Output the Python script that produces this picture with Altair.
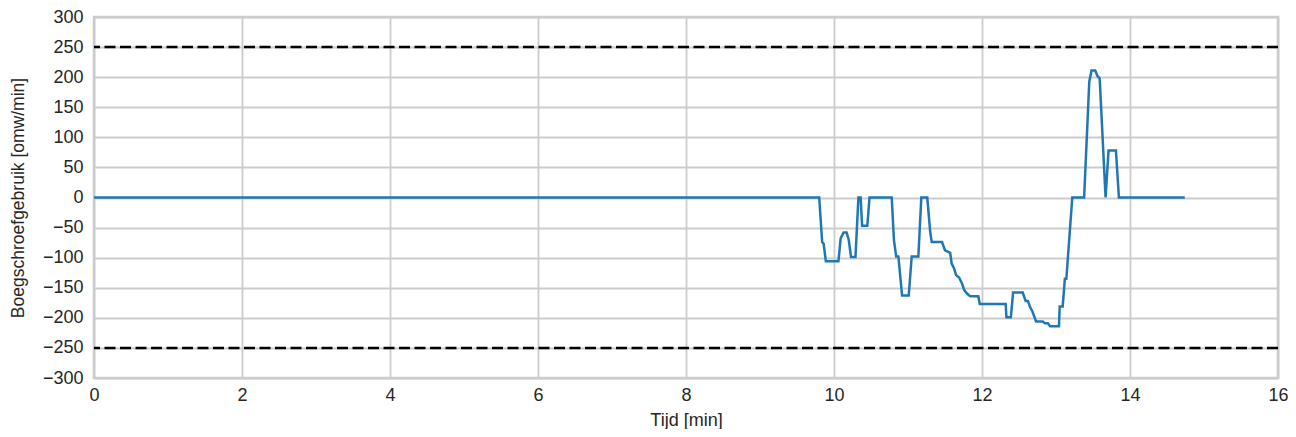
import altair as alt
import pandas as pd

tijd = [0, 9.80, 9.84, 9.86, 9.89, 10.06, 10.09, 10.13, 10.17, 10.20, 10.23, 10.29,
        10.33, 10.36, 10.38, 10.45, 10.48, 10.78, 10.81, 10.84, 10.87, 10.92, 11.01,
        11.05, 11.14, 11.18, 11.26, 11.30, 11.32, 11.46, 11.50, 11.57, 11.59, 11.62,
        11.65, 11.69, 11.73, 11.76, 11.80, 11.84, 11.95, 11.97, 12.32, 12.33, 12.39,
        12.42, 12.55, 12.59, 12.62, 12.65, 12.68, 12.71, 12.73, 12.82, 12.85, 12.89,
        12.92, 13.04, 13.05, 13.09, 13.12, 13.14, 13.22, 13.38, 13.45, 13.48, 13.53,
        13.56, 13.59, 13.67, 13.71, 13.81, 13.85, 14.74]
gebruik = [0, 0, -74, -77, -106, -106, -68, -58, -58, -71, -99, -99,
           0, 0, -47, -47, 0, 0, -71, -98, -98, -163, -163,
           -98, -98, 0, 0, -57, -74, -74, -88, -92, -110, -117,
           -129, -133, -143, -154, -160, -164, -164, -177, -177, -199, -199,
           -158, -158, -172, -172, -182, -189, -199, -206, -206, -209, -209,
           -214, -214, -181, -181, -135, -135, 0, 0, 193, 211, 211,
           202, 198, 0, 78, 78, 0, 0]
limieten = [250, -250]
x_ticks = [0, 2, 4, 6, 8, 10, 12, 14, 16]
y_ticks = list(range(-300, 301, 50))

df = pd.DataFrame({"t": tijd, "v": gebruik})
df_lim = pd.DataFrame({"lim": limieten})

FONT = "Liberation Sans"
TXT = "#262626"
GRID = "#cccccc"

x_scale = alt.Scale(domain=[0, 16], nice=False, zero=False)
y_scale = alt.Scale(domain=[-300, 300], nice=False)

common = dict(grid=True, gridColor=GRID, gridWidth=1.8, domain=False, ticks=False,
              labelFont=FONT, labelFontSize=18, labelColor=TXT, labelOverlap=False,
              labelFlush=False, titleFont=FONT, titleColor=TXT,
              titleFontWeight="normal", format="d")

x_axis = alt.Axis(title="Tijd [min]", values=x_ticks, labelPadding=8, titlePadding=7,
                  titleFontSize=18, **common)
y_axis = alt.Axis(title="Boegschroefgebruik [omw/min]", values=y_ticks,
                  labelPadding=11, titlePadding=15, titleFontSize=17.5, **common)

line = alt.Chart(df).mark_line(color="#1f77b4", strokeWidth=2.5, interpolate="linear").encode(
    x=alt.X("t:Q", scale=x_scale, axis=x_axis),
    y=alt.Y("v:Q", scale=y_scale, axis=y_axis),
)

rules = alt.Chart(df_lim).mark_rule(color="black", strokeWidth=2.5, strokeDash=[11, 4.5]).encode(
    y=alt.Y("lim:Q", scale=y_scale, axis=y_axis)
)

chart = alt.layer(line, rules).properties(
    width=1184,
    height=361,
    autosize=alt.AutoSizeParams(type="none"),
    padding={"left": 86, "top": 9, "right": 10, "bottom": 51},
).configure_view(
    stroke=GRID, strokeWidth=2.5
)

chart.save("out.html", embed_options={"renderer": "svg", "actions": False})
